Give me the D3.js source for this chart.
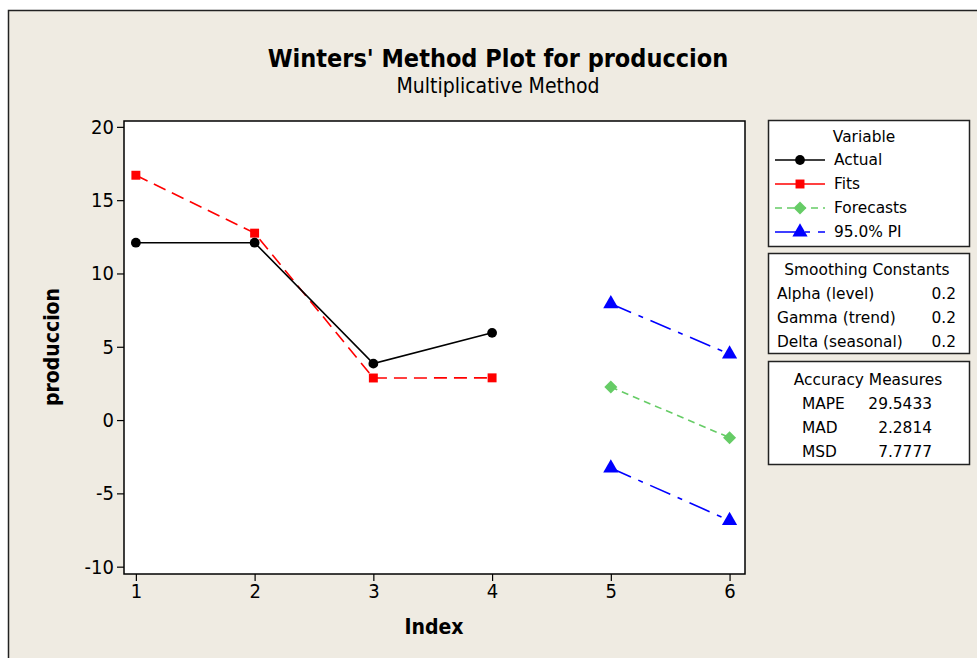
<!DOCTYPE html>
<html>
<head>
<meta charset="utf-8">
<script src="https://cdn.jsdelivr.net/npm/d3@7"></script>
<style>
  body { margin: 0; background: #fff; }
  svg { display: block; }
</style>
</head>
<body>
<svg id="chart"></svg>
<script>
// data
var idxActual = [1, 2, 3, 4];
var actual = [12.1, 12.1, 3.85, 5.95];
var fits = [16.7, 12.75, 2.87, 2.88];
var idxFore = [5, 6];
var forecasts = [2.25, -1.2];
var piUpper = [7.93, 4.5];
var piLower = [-3.27, -6.85];
var xTicks = [1, 2, 3, 4, 5, 6];
var yTicks = [-10, -5, 0, 5, 10, 15, 20];

var width = 977, height = 658;
var margin = {top: 121, right: 232, bottom: 84, left: 124};
var font = "'DejaVu Sans Condensed', 'DejaVu Sans', sans-serif";
var legendFont = "'DejaVu Sans', Verdana, sans-serif";

var svg = d3.select("#chart")
  .attr("width", width)
  .attr("height", height);

// outer panel
svg.append("rect")
  .attr("x", 8.5).attr("y", 10.5)
  .attr("width", width).attr("height", height)
  .attr("fill", "#efebe2")
  .attr("stroke", "#222").attr("stroke-width", 1.5);

var x = d3.scaleLinear().domain([0.9, 6.13]).range([margin.left, width - margin.right]);
var y = d3.scaleLinear().domain([-10.5, 20.4]).range([height - margin.bottom, margin.top]);

// plot area
svg.append("rect")
  .attr("x", margin.left).attr("y", margin.top)
  .attr("width", width - margin.left - margin.right)
  .attr("height", height - margin.top - margin.bottom)
  .attr("fill", "#fff")
  .attr("stroke", "#000").attr("stroke-width", 1.5);

// axes
var yAxis = svg.append("g")
  .attr("transform", "translate(" + margin.left + ",0)")
  .call(d3.axisLeft(y).tickValues(yTicks).tickSize(7).tickPadding(3)
    .tickFormat(function(d) { return String(d); }));
var xAxis = svg.append("g")
  .attr("transform", "translate(0," + (height - margin.bottom) + ")")
  .call(d3.axisBottom(x).tickValues(xTicks).tickSize(7).tickPadding(3)
    .tickFormat(function(d) { return String(d); }));
[xAxis, yAxis].forEach(function(a) {
  a.select(".domain").remove();
  a.selectAll("line").attr("stroke", "#000").attr("stroke-width", 1.2);
  a.selectAll("text")
    .style("font-family", font)
    .style("font-size", "20px")
    .attr("fill", "#000");
});

// titles
svg.append("text")
  .attr("x", 498).attr("y", 67)
  .attr("text-anchor", "middle")
  .style("font-family", font)
  .style("font-weight", "bold")
  .style("font-size", "25px")
  .text("Winters' Method Plot for produccion");
svg.append("text")
  .attr("x", 498).attr("y", 93)
  .attr("text-anchor", "middle")
  .style("font-family", font)
  .style("font-size", "21px")
  .text("Multiplicative Method");
svg.append("text")
  .attr("x", 434).attr("y", 634)
  .attr("text-anchor", "middle")
  .style("font-family", font)
  .style("font-weight", "bold")
  .style("font-size", "21px")
  .text("Index");
svg.append("text")
  .attr("transform", "translate(59,347) rotate(-90)")
  .attr("text-anchor", "middle")
  .style("font-family", font)
  .style("font-weight", "bold")
  .style("font-size", "21px")
  .text("produccion");

// a diamond that is a square turned 45 degrees
var diamond = {
  draw: function(ctx, size) {
    var r = Math.sqrt(size / 2);
    ctx.moveTo(0, -r); ctx.lineTo(r, 0); ctx.lineTo(0, r); ctx.lineTo(-r, 0); ctx.closePath();
  }
};

// series
var line = d3.line().x(function(d) { return x(d[0]); }).y(function(d) { return y(d[1]); });
var series = [
  {name: "Fits", idx: idxActual, vals: fits, color: "#ff0000", dash: "13,7", shape: d3.symbolSquare, size: 80},
  {name: "Actual", idx: idxActual, vals: actual, color: "#000000", dash: null, shape: d3.symbolCircle, size: 75},
  {name: "Forecasts", idx: idxFore, vals: forecasts, color: "#66cc66", dash: "7,5", shape: diamond, size: 85},
  {name: "PI upper", idx: idxFore, vals: piUpper, color: "#0000ff", dash: "22,8,5,8", shape: d3.symbolTriangle, size: 100},
  {name: "PI lower", idx: idxFore, vals: piLower, color: "#0000ff", dash: "22,8,5,8", shape: d3.symbolTriangle, size: 100}
];
series.forEach(function(s) {
  var pts = s.idx.map(function(v, i) { return [v, s.vals[i]]; });
  svg.append("path")
    .attr("d", line(pts))
    .attr("fill", "none")
    .attr("stroke", s.color)
    .attr("stroke-width", 1.6)
    .attr("stroke-dasharray", s.dash);
  svg.selectAll(null)
    .data(pts)
    .enter()
    .append("path")
    .attr("d", d3.symbol().type(s.shape).size(s.size))
    .attr("transform", function(d) { return "translate(" + x(d[0]) + "," + y(d[1]) + ")"; })
    .attr("fill", s.color);
});

// legend boxes
var lx = 768, lw = 201;
function box(y0, h) {
  svg.append("rect")
    .attr("x", lx + 0.5).attr("y", y0 + 0.5)
    .attr("width", lw).attr("height", h)
    .attr("fill", "#fff")
    .attr("stroke", "#222").attr("stroke-width", 1.5);
}
function ltext(tx, ty, str, anchor) {
  svg.append("text")
    .attr("x", tx).attr("y", ty)
    .attr("text-anchor", anchor || "start")
    .style("font-family", legendFont)
    .style("font-size", "15.4px")
    .attr("fill", "#000")
    .text(str);
}

box(120, 126);
ltext(864, 142, "Variable", "middle");
var legendItems = [
  {label: "Actual", color: "#000", dash: null, shape: d3.symbolCircle, size: 75},
  {label: "Fits", color: "#ff0000", dash: null, shape: d3.symbolSquare, size: 80},
  {label: "Forecasts", color: "#66cc66", dash: "7,5", shape: diamond, size: 85},
  {label: "95.0% PI", color: "#0000ff", dash: "22,8,5,8", shape: d3.symbolTriangle, size: 100}
];
legendItems.forEach(function(it, i) {
  var ly = 160 + i * 24;
  svg.append("line")
    .attr("x1", 775).attr("x2", 825)
    .attr("y1", ly).attr("y2", ly)
    .attr("stroke", it.color).attr("stroke-width", 1.6)
    .attr("stroke-dasharray", it.dash);
  svg.append("path")
    .attr("d", d3.symbol().type(it.shape).size(it.size))
    .attr("transform", "translate(800," + ly + ")")
    .attr("fill", it.color);
  ltext(834, ly + 5, it.label);
});

box(253, 100);
ltext(867, 275, "Smoothing Constants", "middle");
var smoothLabels = ["Alpha (level)", "Gamma (trend)", "Delta (seasonal)"];
var smoothValues = ["0.2", "0.2", "0.2"];
smoothLabels.forEach(function(l, i) {
  ltext(777, 299 + i * 24, l);
  ltext(956, 299 + i * 24, smoothValues[i], "end");
});

box(361, 103);
ltext(868, 385, "Accuracy Measures", "middle");
var accLabels = ["MAPE", "MAD", "MSD"];
var accValues = ["29.5433", "2.2814", "7.7777"];
accLabels.forEach(function(l, i) {
  ltext(802, 409 + i * 24, l);
  ltext(932, 409 + i * 24, accValues[i], "end");
});
</script>
</body>
</html>
